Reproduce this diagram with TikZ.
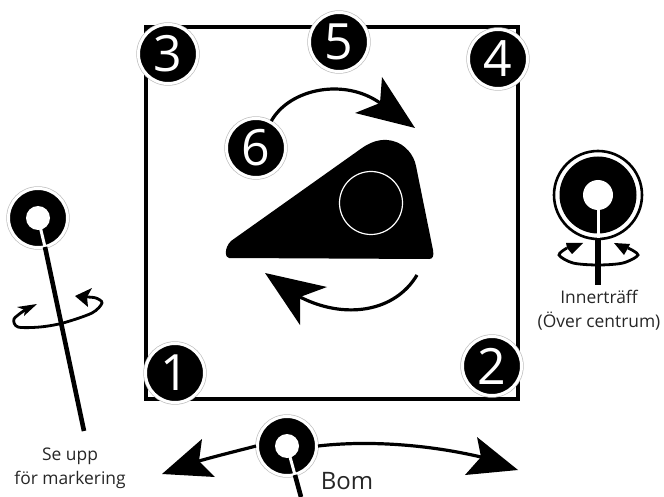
\documentclass[tikz,border=0pt]{standalone}
\usepackage{fontspec}
\setmainfont{Open Sans}
\newcommand{\headfill}[4]{\fill[black] #1 -- #2 -- #3 -- #4 -- cycle;}
\tikzset{
  numdot/.style={circle,inner sep=0pt,minimum size=59pt,fill=black,draw=white,line width=3pt,
    preaction={draw=black!25,line width=4.4pt},text=white,font=\fontsize{50}{50}\selectfont},
  hole/.style={circle,inner sep=0pt,minimum size=#1,fill=white},
  slit/.style={draw=white,line width=3pt},
  stem/.style={draw=black,line width=4.6pt},
  swing/.style={line width=3.2pt},
  turn/.style={line width=2.8pt},
  label/.style={align=center,font=\fontsize{17.4}{24}\selectfont,text=black!85}
}
\begin{document}
\begin{tikzpicture}[x=1pt,y=-1pt]
\useasboundingbox (0,0) rectangle (664,497);
% frame
\draw[line width=4.4pt] (146,27) rectangle (518,399);
% cam
\fill[black] (229,258) .. controls (225,258) and (224,248) .. (231,241)
  -- (362,148) .. controls (375,139) and (385,139) .. (393,141)
  .. controls (405,144) and (414,155) .. (416,166)
  -- (433,250) .. controls (434,256) and (433,259) .. (429,259) -- cycle;
\node[circle,draw=white,line width=1.2pt,minimum size=63pt,inner sep=0pt] (bore) at (371,203) {};
% numbered points
\node[numdot] (three) at (168,54) {3};
\node[numdot] (five) at (339,42) {5};
\node[numdot] (four) at (498,59) {4};
\node[numdot] (six) at (256,148) {6};
\node[numdot] (one) at (175,373) {1};
\node[numdot] (two) at (492,366) {2};
% rotation arrows
\coordinate (topnotch) at (380,103);
\coordinate (lowstart) at (417,275);
\coordinate (lownotch) at (300,297);
\draw[swing] (six) .. controls (290,88) and (345,78) .. (topnotch);
\headfill{(415,128)}{(382,77)}{(topnotch)}{(355,113)}
\draw[swing] (lowstart) .. controls (395,312) and (345,320) .. (lownotch);
\headfill{(265,273)}{(327,287)}{(lownotch)}{(300,325)}
% left target
\node[numdot] (left) at (38,218) {};
\node[hole=24pt] (lefthole) at (left) {};
\coordinate (leftslit) at (45,247);
\coordinate (leftend) at (84,431);
\draw[turn] plot[smooth] coordinates {(25,310) (14,319) (18,327) (40,327) (63,323) (92,313) (102,303) (96,298) (87,297)};
\headfill{(37,304)}{(17,307)}{(25,310)}{(24,316)}
\headfill{(75,296)}{(92,288)}{(87,297)}{(88,307)}
\draw[slit] (lefthole.center) -- (leftslit);
\draw[stem] (leftslit) -- (leftend);
% right target
\node[circle,draw=black,fill=white,line width=2.6pt,minimum size=88pt,inner sep=0pt] (rightring) at (598,195) {};
\node[circle,fill=black,minimum size=77pt,inner sep=0pt] (right) at (rightring) {};
\node[hole=30pt] (righthole) at (right) {};
\coordinate (rightslit) at (598,238);
\coordinate (rightend) at (598,285);
\draw[turn] plot[smooth] coordinates {(567,248) (559,255) (573,263) (598,265) (623,263) (638,255) (628,248)};
\headfill{(583,243)}{(566,243)}{(567,248)}{(572,254)}
\headfill{(614,243)}{(630,244)}{(628,248)}{(624,255)}
\draw[slit] (righthole.center) -- (rightslit);
\draw[stem,line width=5.4pt] (rightslit) -- (rightend);
% boom
\coordinate (boomleft) at (199,461);
\coordinate (boomright) at (481,457);
\coordinate (boomslit) at (295,475);
\coordinate (boomend) at (301,497);
\node[numdot] (boom) at (287,446) {};
\node[hole=24pt] (boomhole) at (boom) {};
\draw[swing] (boom.west) .. controls (245,449) and (220,455) .. (boomleft);
\draw[swing] (boom.east) .. controls (370,440) and (430,445) .. (boomright);
\headfill{(162,474)}{(202,439)}{(boomleft)}{(215,477)}
\headfill{(518,470)}{(477,437)}{(boomright)}{(465,475)}
\draw[slit] (boomhole.center) -- (boomslit);
\draw[stem] (boomslit) -- (boomend);
% labels
\node[label] (warn) at (70,468) {Se upp\\för markering};
\node[label] (inner) at (599,310) {Innerträff\\(Över centrum)};
\node[font=\fontsize{24}{24}\selectfont,text=black!85] (bomtext) at (347,481) {Bom};
\end{tikzpicture}
\end{document}
